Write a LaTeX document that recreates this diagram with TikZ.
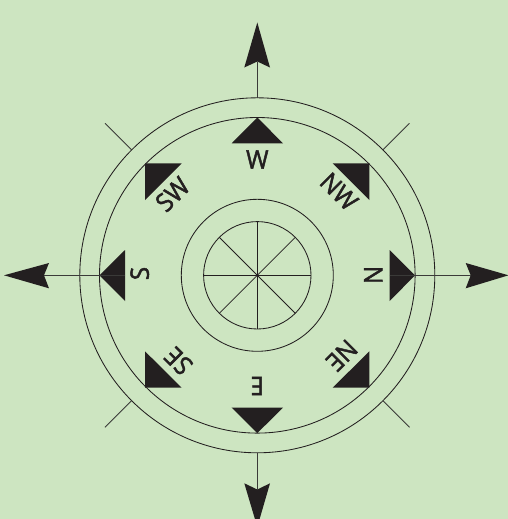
\documentclass[tikz,border=0pt]{standalone}
\usepackage{fontspec}
\setmainfont{Open Sans}[FakeBold=1.8,FakeStretch=0.95]
\definecolor{bgc}{HTML}{CDE5C1}
\definecolor{ink}{HTML}{231F20}
\definecolor{rule}{HTML}{3A3A38}
\tikzset{
  ringline/.style={draw=ink,line width=0.85pt},
  spoke/.style={draw=rule,line width=0.85pt},
  solidtip/.style={fill=ink,draw=none},
  dirlabel/.style={text=ink,inner sep=0pt,font=\fontsize{25.5}{25.5}\selectfont}
}
\begin{document}
\begin{tikzpicture}[x=1pt,y=-1pt]
\useasboundingbox (0,0) rectangle (508,519);
\clip (0,0) rectangle (508,519);
\fill[bgc] (0,0) rectangle (508,519);
\coordinate (c) at (257.3,275.3);
% rings
\draw[ringline] (c) circle (177.5pt);
\draw[ringline] (c) circle (157.8pt);
\draw[ringline] (c) circle (76pt);
\draw[ringline] (c) circle (53.7pt);
% inner spokes
\foreach \a in {0,45,...,315}{\draw[ringline] (c) -- ++(\a:53.7pt);}
% outer diagonal ticks
\coordinate (t1a) at (105,123.3); \coordinate (t1b) at (131.7,150);
\coordinate (t2a) at (409.5,123.3); \coordinate (t2b) at (382.8,150);
\coordinate (t3a) at (409.5,427.3); \coordinate (t3b) at (382.8,400.6);
\coordinate (t4a) at (105,427.3); \coordinate (t4b) at (131.7,400.6);
\draw[spoke] (t1a)--(t1b); \draw[spoke] (t2a)--(t2b); \draw[spoke] (t3a)--(t3b); \draw[spoke] (t4a)--(t4b);
% cardinal triangles
\fill[solidtip] (257.3,117.5) -- (283,143.3) -- (231.7,143.3) -- cycle;
\fill[solidtip] (257.3,433.1) -- (283,407.7) -- (231.7,407.7) -- cycle;
\fill[solidtip] (415,275.3) -- (389.7,250) -- (389.7,301) -- cycle;
\fill[solidtip] (99.5,275.3) -- (125,250) -- (125,301) -- cycle;
% corner triangles
\fill[solidtip] (145,163.3) -- (181.7,163.3) -- (145,200) -- cycle;
\fill[solidtip] (332.7,163.3) -- (369.3,163.3) -- (369.3,200) -- cycle;
\fill[solidtip] (369.3,351.3) -- (369.3,387.7) -- (332.7,387.7) -- cycle;
\fill[solidtip] (145,351.3) -- (145,387.7) -- (181.7,387.7) -- cycle;
% outer arrowheads
\fill[solidtip] (257.3,22.5) -- (270,67.5) -- (257.3,61.5) -- (244.3,67.5) -- cycle;
\fill[solidtip] (257.3,527) -- (270,483.3) -- (257.3,489.5) -- (244.3,483.3) -- cycle;
\fill[solidtip] (508.5,275.3) -- (465.7,263) -- (470.7,275.3) -- (465.7,288.3) -- cycle;
\fill[solidtip] (4,275.3) -- (49,263) -- (44,275.3) -- (49,288.3) -- cycle;
% long spokes
\coordinate (nt) at (257.3,98); \coordinate (nh) at (257.3,62);
\coordinate (st) at (257.3,453); \coordinate (sh) at (257.3,490);
\coordinate (et) at (389.7,275.3); \coordinate (eh) at (471,275.3);
\coordinate (wt) at (125,275.3); \coordinate (wh) at (44,275.3);
\draw[spoke] (nt)--(nh); \draw[spoke] (st)--(sh); \draw[spoke] (et)--(eh); \draw[spoke] (wt)--(wh);
% labels
\node[dirlabel] (lw) at (257.3,159.5) {W};
\node[dirlabel,rotate=45] (lsw) at (172.5,194.3) {SW};
\node[dirlabel,rotate=90] (ls) at (139.7,273.5) {S};
\node[dirlabel,rotate=135] (lse) at (178.3,361) {SE};
\node[dirlabel,rotate=180] (le) at (257.3,386) {E};
\node[dirlabel,rotate=-135] (lne) at (341.7,355.5) {NE};
\node[dirlabel,rotate=-90] (ln) at (373.3,275) {N};
\node[dirlabel,rotate=-45] (lnw) at (339,191.5) {NW};
\end{tikzpicture}
\end{document}
